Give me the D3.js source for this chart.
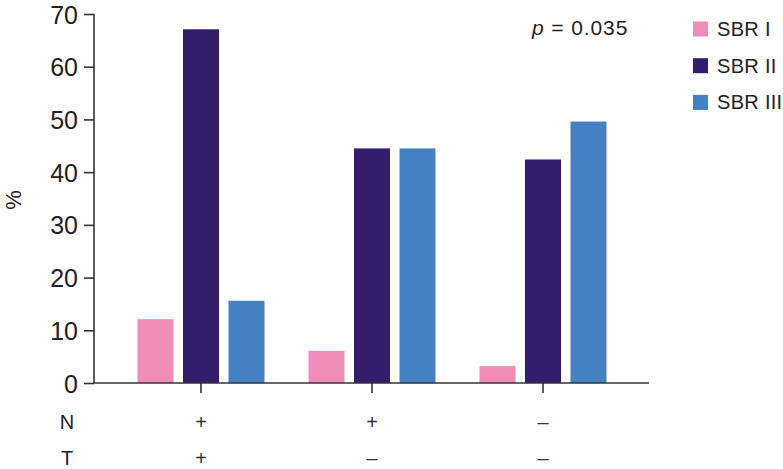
<!DOCTYPE html>
<html><head><meta charset="utf-8">
<script src="https://cdn.jsdelivr.net/npm/d3@7"></script>
<style>body{margin:0;background:#fff}svg{display:block;font-family:"Liberation Sans",Arial,sans-serif}</style>
</head><body>
<svg id="c" width="783" height="469"></svg>
<script>
const groups = ["g1","g2","g3"];
const nLabels = ["+","+","\u2013"];
const tLabels = ["+","\u2013","\u2013"];
const series = ["SBR I","SBR II","SBR III"];
const sbr1 = [12.1, 6.1, 3.2];
const sbr2 = [67.1, 44.5, 42.4];
const sbr3 = [15.6, 44.5, 49.6];
const yTicks = [0,10,20,30,40,50,60,70];
const colors = ["#ef8cb8","#331c6a","#4581c2"];
const values = [sbr1, sbr2, sbr3];

const svg = d3.select("#c");
const axisColor = "#333";
const y = d3.scaleLinear().domain([0,70]).range([383,14]);
const x0 = d3.scaleBand().domain(groups).range([115.5,628.5]).padding(0);
const x1 = d3.scaleBand().domain(series).range([22,149]).paddingInner(0.209).paddingOuter(0);

// bars
series.forEach((s,si)=>{
  svg.append("g").selectAll("rect").data(groups).join("rect")
    .attr("x",(g)=>x0(g)+x1(s))
    .attr("width",x1.bandwidth())
    .attr("y",(g,i)=>y(values[si][i]))
    .attr("height",(g,i)=>y(0)-y(values[si][i]))
    .attr("fill",colors[si]);
});

// y axis
const ya = svg.append("g").attr("transform","translate(94,0)")
  .call(d3.axisLeft(y).tickValues(yTicks).tickSize(10).tickPadding(6).tickFormat(d3.format("d")));
ya.select(".domain").attr("stroke",axisColor).attr("stroke-width",1.6).attr("d","M0,14V383");
ya.selectAll(".tick line").attr("stroke",axisColor).attr("stroke-width",1.6);
ya.selectAll(".tick text").attr("font-size",25).attr("fill","#222").attr("font-family","Liberation Sans, Arial, sans-serif").attr("dy","0.36em");

// x axis
const xa = svg.append("g").attr("transform","translate(0,383)")
  .call(d3.axisBottom(x0).tickSize(10).tickFormat(""));
xa.select(".domain").attr("stroke",axisColor).attr("stroke-width",1.6).attr("d","M94,0H649");
xa.selectAll(".tick line").attr("stroke",axisColor).attr("stroke-width",1.6);

// N / T rows
const fs = 20;
svg.append("text").attr("x",67).attr("y",429).attr("text-anchor","middle").attr("font-size",fs).attr("fill","#222").text("N");
svg.append("text").attr("x",67).attr("y",465).attr("text-anchor","middle").attr("font-size",fs).attr("fill","#222").text("T");
svg.append("g").selectAll("text").data(groups).join("text")
  .attr("x",g=>x0(g)+x0.bandwidth()/2).attr("y",429).attr("text-anchor","middle")
  .attr("font-size",fs).attr("fill","#333").text((g,i)=>nLabels[i]);
svg.append("g").selectAll("text").data(groups).join("text")
  .attr("x",g=>x0(g)+x0.bandwidth()/2).attr("y",465).attr("text-anchor","middle")
  .attr("font-size",fs).attr("fill","#333").text((g,i)=>tLabels[i]);

// y label
svg.append("text").attr("transform","translate(21,200) rotate(-90)").attr("text-anchor","middle")
  .attr("font-size",22).attr("fill","#222").text("%");

// p value
const pt = svg.append("text").attr("x",532).attr("y",35).attr("font-size",21).attr("letter-spacing",0.9).attr("fill","#222");
pt.append("tspan").attr("font-style","italic").text("p");
pt.append("tspan").text(" = 0.035");

// legend
const leg = svg.append("g").selectAll("g").data(series).join("g")
  .attr("transform",(d,i)=>`translate(693,${29+i*36.7})`);
leg.append("rect").attr("x",0).attr("y",-7.5).attr("width",15).attr("height",15).attr("fill",(d,i)=>colors[i]);
leg.append("text").attr("x",24).attr("y",7).attr("font-size",20).attr("letter-spacing",0.3).attr("fill","#222").text(d=>d);
</script>
</body></html>
